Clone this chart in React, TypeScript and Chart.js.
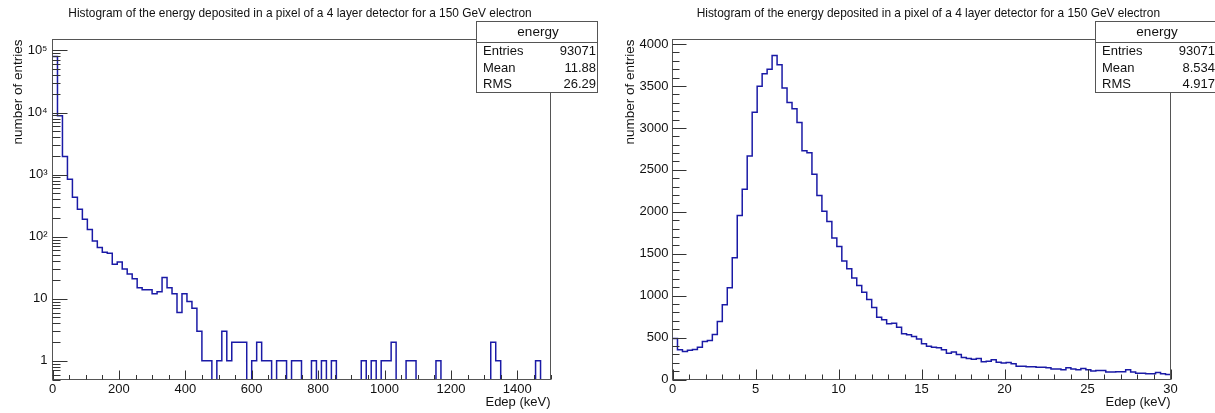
import React, { useEffect, useRef } from 'react';
import { Chart, registerables } from 'chart.js';

Chart.register(...registerables);

const FONT = '"Liberation Sans", Arial, Helvetica, sans-serif';
const PLOT_TITLE = 'Histogram of the energy deposited in a pixel of a 4 layer detector for a 150 GeV electron';
const X_TITLE = 'Edep (keV)';
const Y_TITLE = 'number of entries';
const STATS_NAME = 'energy';
const STATS_LABELS = ['Entries', 'Mean', 'RMS'];

// ---- Left histogram: 100 bins, 0 - 1500 keV, log y ----
const WIDE_X_MIN = 0;
const WIDE_X_MAX = 1500;
const WIDE_COUNTS = [
  80000, 8840, 1950, 841, 431, 276, 190, 131, 85, 67,
  56, 54, 36, 39, 30, 25, 21, 15, 14, 14,
  12, 13, 22, 15, 12, 6, 12, 9, 7, 3,
  1, 1, 0, 1, 3, 1, 2, 2, 2, 0,
  1, 2, 1, 1, 0, 1, 1, 0, 1, 1,
  0, 0, 1, 0, 1, 0, 1, 0, 0, 0,
  0, 0, 1, 0, 1, 0, 1, 1, 2, 0,
  0, 1, 1, 0, 0, 0, 0, 1, 0, 0,
  0, 0, 0, 0, 0, 0, 0, 0, 2, 1,
  0, 0, 0, 0, 0, 0, 0, 1, 0, 0,
];
const WIDE_Y_MIN = 0.5;
const WIDE_Y_MAX = 150000;
const WIDE_X_TICKS = [0, 200, 400, 600, 800, 1000, 1200, 1400];
const WIDE_Y_TICKS = [1, 10, 100, 1000, 10000, 100000];
const WIDE_Y_TICK_LABELS = ['1', '10', '10\u00B2', '10\u00B3', '10\u2074', '10\u2075'];
const WIDE_STATS_VALUES = ['93071', '11.88', '26.29'];

// ---- Right histogram: 100 bins, 0 - 30 keV, linear y ----
const PEAK_X_MIN = 0;
const PEAK_X_MAX = 30;
const PEAK_COUNTS = [
  490, 355, 335, 350, 358, 385, 452, 466, 536, 691,
  891, 1095, 1452, 1956, 2268, 2665, 3188, 3498, 3647, 3701,
  3864, 3755, 3476, 3305, 3230, 3066, 2729, 2705, 2448, 2193,
  2008, 1884, 1687, 1587, 1414, 1320, 1211, 1120, 1042, 955,
  859, 741, 712, 665, 672, 622, 546, 534, 514, 482,
  426, 398, 386, 378, 355, 313, 327, 297, 263, 249,
  243, 249, 213, 217, 235, 207, 197, 203, 187, 159,
  159, 151, 151, 147, 147, 139, 124, 124, 116, 139,
  124, 116, 131, 116, 100, 108, 108, 88, 88, 92,
  92, 116, 88, 76, 76, 68, 68, 84, 68, 60,
];
const PEAK_Y_MIN = 0;
const PEAK_Y_MAX = 4055;
const PEAK_X_TICKS = [0, 5, 10, 15, 20, 25, 30];
const PEAK_Y_TICKS = [0, 500, 1000, 1500, 2000, 2500, 3000, 3500, 4000];
const PEAK_Y_TICK_LABELS = ['0', '500', '1000', '1500', '2000', '2500', '3000', '3500', '4000'];
const PEAK_STATS_VALUES = ['93071', '8.534', '4.917'];

const CANVAS_H = 413;
const LINE_COLOR = '#1a1aa6';
const FRAME_COLOR = '#555';
const TICK_COLOR = '#333';
const TEXT_COLOR = '#111';

type Spec = {
  counts: number[];
  xMin: number; xMax: number; yMin: number; yMax: number; log: boolean;
  xTicks: number[]; xMinorStep: number;
  yTicks: number[]; yTickLabels: string[]; yMinorStep: number;
  statsValues: string[];
  canvasLeft: number; canvasWidth: number;
  area: { left: number; right: number; top: number; bottom: number };
  titleX: number; yTitleX: number;
  box: { left: number; right: number; top: number; sep: number; bottom: number };
  yLabelPad: number;
  xMajor: number; xMinor: number; yMajor: number; yMinor: number;
};

const decorPlugin = {
  id: 'rootDecor',
  afterDraw(chart: any, _args: any, opts: any) {
    const spec: Spec = opts.spec;
    const ctx = chart.ctx;
    const a = chart.chartArea;
    const xs = chart.scales.x;
    const ys = chart.scales.y;
    const off = spec.canvasLeft;
    ctx.save();

    // frame
    ctx.strokeStyle = FRAME_COLOR;
    ctx.lineWidth = 1;
    ctx.strokeRect(a.left, a.top, a.right - a.left, a.bottom - a.top);

    // ticks (drawn inside the frame, ROOT style)
    ctx.strokeStyle = TICK_COLOR;
    ctx.beginPath();
    const xMajorSet = new Set(spec.xTicks);
    for (let v = spec.xMin; v <= spec.xMax + 1e-9; v += spec.xMinorStep) {
      const vv = Math.round(v * 1000) / 1000;
      const px = Math.round(xs.getPixelForValue(vv)) + 0.5;
      const len = xMajorSet.has(vv) ? spec.xMajor : spec.xMinor;
      ctx.moveTo(px, a.bottom);
      ctx.lineTo(px, a.bottom - len);
    }
    const yMinorVals: number[] = [];
    if (spec.log) {
      for (let e = Math.floor(Math.log10(spec.yMin)); e <= Math.ceil(Math.log10(spec.yMax)); e++) {
        for (let k = 2; k <= 9; k++) {
          const v = k * Math.pow(10, e);
          if (v >= spec.yMin && v <= spec.yMax) yMinorVals.push(v);
        }
      }
    } else {
      for (let v = spec.yMin; v <= spec.yMax; v += spec.yMinorStep) yMinorVals.push(v);
    }
    const yMajorSet = new Set(spec.yTicks);
    yMinorVals.forEach((v) => {
      if (yMajorSet.has(v)) return;
      const py = Math.round(ys.getPixelForValue(v)) + 0.5;
      ctx.moveTo(a.left, py);
      ctx.lineTo(a.left + spec.yMinor, py);
    });
    spec.yTicks.forEach((v) => {
      const py = Math.round(ys.getPixelForValue(v)) + 0.5;
      ctx.moveTo(a.left, py);
      ctx.lineTo(a.left + spec.yMajor, py);
    });
    ctx.stroke();

    // title
    ctx.fillStyle = TEXT_COLOR;
    ctx.font = `11.9px ${FONT}`;
    ctx.textAlign = 'left';
    ctx.textBaseline = 'alphabetic';
    ctx.fillText(PLOT_TITLE, spec.titleX - off, 16.7);

    // axis titles
    ctx.font = `13px ${FONT}`;
    ctx.textAlign = 'right';
    ctx.textBaseline = 'middle';
    ctx.fillText(X_TITLE, a.right, 402);
    ctx.save();
    ctx.font = `13.5px ${FONT}`;
    ctx.translate(spec.yTitleX - off, a.top);
    ctx.rotate(-Math.PI / 2);
    ctx.fillText(Y_TITLE, 0, 0);
    ctx.restore();

    // stats box
    const b = spec.box;
    const bl = b.left - off;
    const br = b.right - off;
    ctx.fillStyle = '#fff';
    ctx.fillRect(bl, b.top, br - bl, b.bottom - b.top);
    ctx.strokeStyle = FRAME_COLOR;
    ctx.strokeRect(bl, b.top, br - bl, b.bottom - b.top);
    ctx.beginPath();
    ctx.moveTo(bl, b.sep);
    ctx.lineTo(br, b.sep);
    ctx.stroke();
    ctx.fillStyle = TEXT_COLOR;
    ctx.font = `13.5px ${FONT}`;
    ctx.textAlign = 'center';
    ctx.fillText(STATS_NAME, (bl + br) / 2 + 1, (b.top + b.sep) / 2 + 0.5);
    ctx.font = `13px ${FONT}`;
    const rowH = (b.bottom - b.sep) / 3;
    STATS_LABELS.forEach((lab, i) => {
      const y = b.sep + rowH * (i + 0.5) + 0.5;
      ctx.textAlign = 'left';
      ctx.fillText(lab, bl + 6.5, y);
      ctx.textAlign = 'right';
      ctx.fillText(spec.statsValues[i], br - 1.5, y);
    });
    ctx.restore();
  },
};

function buildConfig(spec: Spec): any {
  const w = (spec.xMax - spec.xMin) / spec.counts.length;
  const pts = spec.counts.map((c, i) => ({
    x: spec.xMin + i * w,
    y: spec.log && c <= 0 ? spec.yMin * 1e-3 : c,
  }));
  pts.push({ x: spec.xMax, y: pts[pts.length - 1].y });
  const a = spec.area;
  const tickFont = { family: FONT, size: 13 };
  return {
    type: 'line',
    data: {
      datasets: [
        {
          data: pts,
          stepped: 'before',
          borderColor: LINE_COLOR,
          borderWidth: 1.5,
          pointRadius: 0,
          fill: false,
          tension: 0,
        },
      ],
    },
    plugins: [decorPlugin],
    options: {
      animation: false,
      responsive: false,
      maintainAspectRatio: false,
      devicePixelRatio: 1,
      events: [],
      layout: {
        padding: {
          left: 0,
          top: a.top,
          right: spec.canvasWidth - (a.right - spec.canvasLeft),
          bottom: 0,
        },
      },
      plugins: {
        legend: { display: false },
        tooltip: { enabled: false },
        title: { display: false },
        rootDecor: { spec },
      },
      scales: {
        x: {
          type: 'linear',
          min: spec.xMin,
          max: spec.xMax,
          bounds: 'data',
          grid: { display: false, drawTicks: false },
          border: { display: false },
          ticks: {
            padding: 2,
            font: tickFont,
            color: TEXT_COLOR,
            maxRotation: 0,
            autoSkip: false,
            callback: (v: number) => String(v),
          },
          afterBuildTicks: (s: any) => {
            s.ticks = spec.xTicks.map((v) => ({ value: v }));
          },
          afterFit: (s: any) => {
            s.height = CANVAS_H - a.bottom;
          },
        },
        y: {
          type: spec.log ? 'logarithmic' : 'linear',
          min: spec.yMin,
          max: spec.yMax,
          bounds: 'data',
          grid: { display: false, drawTicks: false },
          border: { display: false },
          ticks: {
            padding: spec.yLabelPad,
            font: tickFont,
            color: TEXT_COLOR,
            autoSkip: false,
            callback: (v: number) => {
              const i = spec.yTicks.indexOf(v);
              return i >= 0 ? spec.yTickLabels[i] : '';
            },
          },
          afterBuildTicks: (s: any) => {
            s.ticks = spec.yTicks.map((v) => ({ value: v }));
          },
          afterFit: (s: any) => {
            s.width = a.left - spec.canvasLeft;
          },
        },
      },
    },
  };
}

const LEFT_SPEC: Spec = {
  counts: WIDE_COUNTS,
  xMin: WIDE_X_MIN, xMax: WIDE_X_MAX, yMin: WIDE_Y_MIN, yMax: WIDE_Y_MAX, log: true,
  xTicks: WIDE_X_TICKS, xMinorStep: 50,
  yTicks: WIDE_Y_TICKS, yTickLabels: WIDE_Y_TICK_LABELS, yMinorStep: 0,
  statsValues: WIDE_STATS_VALUES,
  canvasLeft: 0, canvasWidth: 610,
  area: { left: 52.5, right: 550.5, top: 39.5, bottom: 379.5 },
  titleX: 68.3, yTitleX: 18,
  box: { left: 476.5, right: 597.5, top: 21.5, sep: 42.5, bottom: 92.5 },
  yLabelPad: 5,
  xMajor: 9, xMinor: 4.5, yMajor: 15, yMinor: 8,
};

const RIGHT_SPEC: Spec = {
  counts: PEAK_COUNTS,
  xMin: PEAK_X_MIN, xMax: PEAK_X_MAX, yMin: PEAK_Y_MIN, yMax: PEAK_Y_MAX, log: false,
  xTicks: PEAK_X_TICKS, xMinorStep: 1,
  yTicks: PEAK_Y_TICKS, yTickLabels: PEAK_Y_TICK_LABELS, yMinorStep: 100,
  statsValues: PEAK_STATS_VALUES,
  canvasLeft: 610, canvasWidth: 605,
  area: { left: 672.5, right: 1170.5, top: 39.5, bottom: 379.5 },
  titleX: 696.7, yTitleX: 630,
  box: { left: 1095.5, right: 1216.5, top: 21.5, sep: 42.5, bottom: 92.5 },
  yLabelPad: 4,
  xMajor: 10, xMinor: 5, yMajor: 14, yMinor: 7,
};

function HistCanvas({ spec }: { spec: Spec }) {
  const ref = useRef<HTMLCanvasElement | null>(null);
  useEffect(() => {
    if (!ref.current) return;
    const chart = new Chart(ref.current, buildConfig(spec));
    return () => chart.destroy();
  }, [spec]);
  return (
    <canvas
      ref={ref}
      width={spec.canvasWidth}
      height={CANVAS_H}
      style={{
        position: 'absolute',
        left: spec.canvasLeft,
        top: 0,
        width: spec.canvasWidth,
        height: CANVAS_H,
        display: 'block',
      }}
    />
  );
}

export default function App() {
  return (
    <div
      style={{
        position: 'absolute',
        left: 0,
        top: 0,
        width: 1215,
        height: CANVAS_H,
        background: '#fff',
        overflow: 'hidden',
      }}
    >
      <HistCanvas spec={LEFT_SPEC} />
      <HistCanvas spec={RIGHT_SPEC} />
    </div>
  );
}
